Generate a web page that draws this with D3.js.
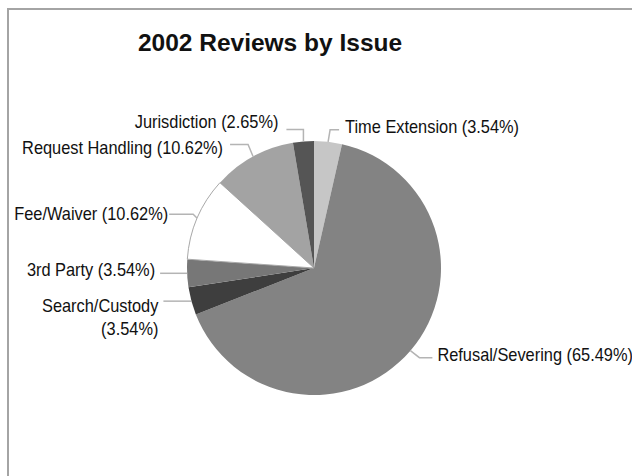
<!DOCTYPE html>
<html>
<head>
<meta charset="utf-8">
<script src="https://cdn.jsdelivr.net/npm/d3@7/dist/d3.min.js"></script>
<style>
  html, body { margin: 0; padding: 0; background: #fff; }
  svg { display: block; }
</style>
</head>
<body>
<svg id="chart" width="632" height="476"></svg>
<script>
// ---- data (counts of reviews, 113 total) ----
const title = "2002 Reviews by Issue";
const categories = ["Time Extension", "Refusal/Severing", "Search/Custody", "3rd Party", "Fee/Waiver", "Request Handling", "Jurisdiction"];
const counts = [4, 74, 4, 4, 12, 12, 3];
const fills = ["#c6c6c6", "#838383", "#3e3e3e", "gradient", "#ffffff", "#a3a3a3", "#555555"];

// ---- label layout (offsets from the slice's outer edge at mid-angle) ----
const labelLayout = {
  "Time Extension":   { knee: [2, -12],  end: [11, -12],  text: [17, -15], anchor: "start" },
  "Refusal/Severing": { knee: [9, 7],    end: [22, 7],    text: [27, 4],   anchor: "start" },
  "Search/Custody":   { knee: [-1, 0],   end: [-28, 0],   text: [-33, 5],  anchor: "end", wrap: true },
  "3rd Party":        { knee: [-1, 0],   end: [-27, 0],   text: [-32, -4], anchor: "end" },
  "Fee/Waiver":       { knee: [-4, -4],  end: [-28, -4],  text: [-29, -4], anchor: "end" },
  "Request Handling": { knee: [-5, -12], end: [-23, -12], text: [-30, -9], anchor: "end" },
  "Jurisdiction":     { knee: [0, -12],  end: [-17, -12], text: [-25, -20], anchor: "end" }
};

const W = 632, H = 476;
const cx = 314, cy = 268, R = 127;
const svg = d3.select("#chart");

// frame (top and left edges of a bordered panel)
svg.append("path")
  .attr("d", `M8,${H} L8,9 L${W},9`)
  .attr("fill", "none")
  .attr("stroke", "#a4a4a4")
  .attr("stroke-width", 2);

// title
svg.append("text")
  .attr("x", 270).attr("y", 51)
  .attr("text-anchor", "middle")
  .attr("font-family", "'Liberation Sans', Arial, Helvetica, sans-serif")
  .attr("font-weight", "bold")
  .attr("font-size", 24.5)
  .attr("fill", "#111")
  .text(title);

const total = d3.sum(counts);
const data = categories.map((c, i) => ({ cat: c, value: counts[i], fill: fills[i], pct: (counts[i] / total * 100).toFixed(2) }));

const pie = d3.pie().value(d => d.value).sort(null).startAngle(0).endAngle(2 * Math.PI);
const arcs = pie(data);
const arc = d3.arc().innerRadius(0).outerRadius(R);

const g = svg.append("g").attr("transform", `translate(${cx},${cy})`);
const defs = svg.append("defs");

function edgePoint(a, r) {
  return [Math.sin(a) * r, -Math.cos(a) * r];
}

arcs.forEach((a, i) => {
  let fill = a.data.fill;
  if (fill === "gradient") {
    const mid = (a.startAngle + a.endAngle) / 2;
    const p = edgePoint(mid, R);
    const grad = defs.append("linearGradient")
      .attr("id", "grad" + i)
      .attr("gradientUnits", "userSpaceOnUse")
      .attr("x1", cx + p[0]).attr("y1", cy + p[1])
      .attr("x2", cx).attr("y2", cy);
    grad.append("stop").attr("offset", "0%").attr("stop-color", "#777777");
    grad.append("stop").attr("offset", "100%").attr("stop-color", "#111111");
    fill = `url(#grad${i})`;
  }
  g.append("path")
    .attr("d", arc(a))
    .attr("fill", fill)
    .attr("stroke", a.data.fill === "#ffffff" ? "#a8a8a8" : "none")
    .attr("stroke-width", a.data.fill === "#ffffff" ? 1 : 0);
});

// leader lines and labels
const fontFam = "'Liberation Sans', Arial, Helvetica, sans-serif";
const condense = 0.91;
arcs.forEach(a => {
  const L = labelLayout[a.data.cat];
  const mid = (a.startAngle + a.endAngle) / 2;
  const p = edgePoint(mid, R);
  const pts = [p, [p[0] + L.knee[0], p[1] + L.knee[1]], [p[0] + L.end[0], p[1] + L.end[1]]];
  g.append("path")
    .attr("d", d3.line()(pts))
    .attr("fill", "none")
    .attr("stroke", "#b4b4b4")
    .attr("stroke-width", 1.5);
  const t = g.append("text")
    .attr("transform", `translate(${p[0] + L.text[0]},${p[1] + L.text[1]}) scale(${condense},1)`)
    .attr("x", 0)
    .attr("y", 0)
    .attr("text-anchor", L.anchor)
    .attr("dominant-baseline", "central")
    .attr("font-family", fontFam)
    .attr("font-size", 18)
    .attr("fill", "#111");
  const label = `${a.data.cat} (${a.data.pct}%)`;
  if (L.wrap) {
    t.append("tspan").attr("x", 0).attr("dy", 0).text(a.data.cat);
    t.append("tspan").attr("x", 0).attr("dy", 23).text(`(${a.data.pct}%)`);
  } else {
    t.text(label);
  }
});
</script>
</body>
</html>
